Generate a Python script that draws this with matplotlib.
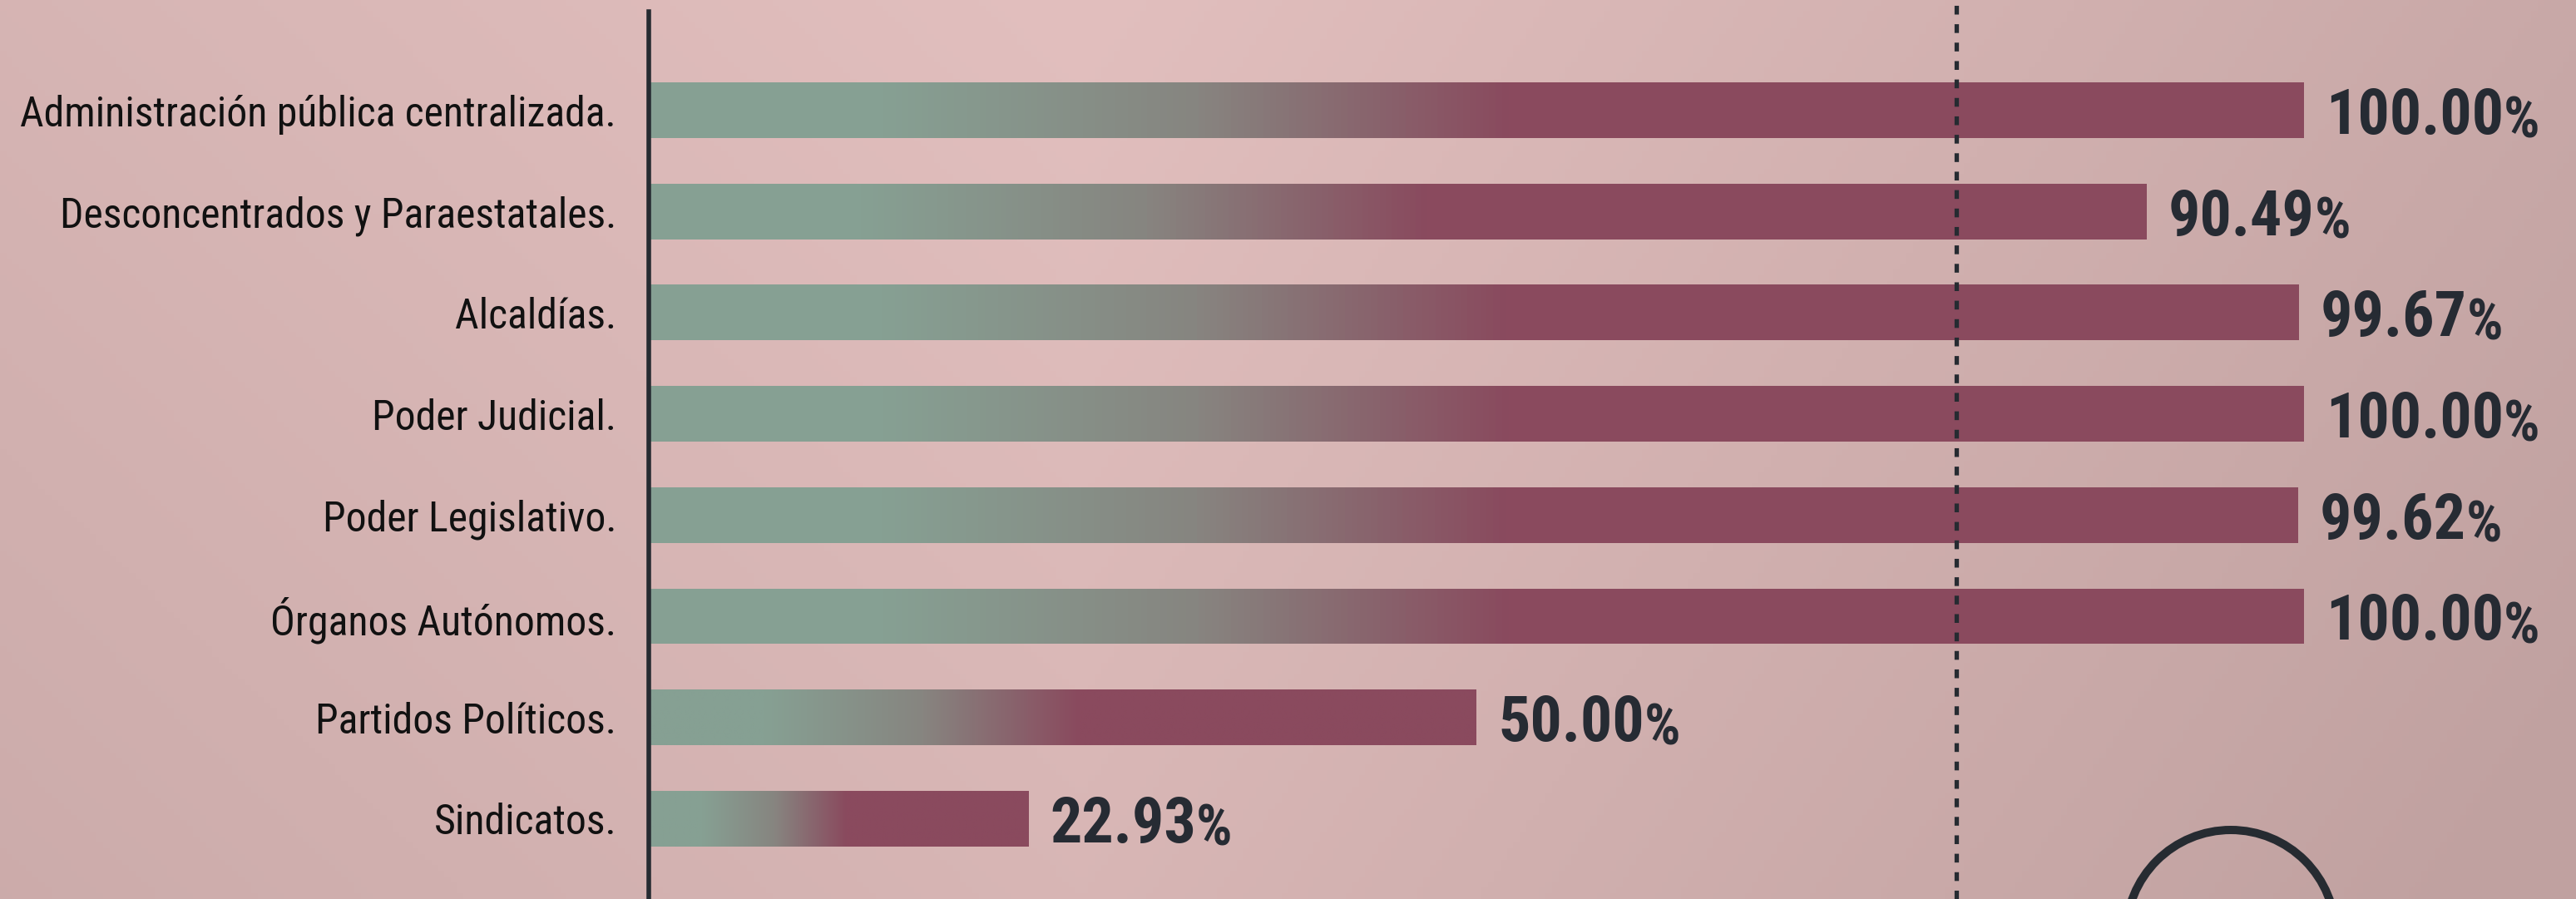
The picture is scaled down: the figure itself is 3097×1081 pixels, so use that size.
import os
import numpy as np
import matplotlib
matplotlib.use('Agg')
import matplotlib.pyplot as plt
from matplotlib import font_manager as fm
from matplotlib.colors import LinearSegmentedColormap
from matplotlib.patches import Circle

# datos
categorias = ['Administración pública centralizada.', 'Desconcentrados y Paraestatales.',
              'Alcaldías.', 'Poder Judicial.', 'Poder Legislativo.', 'Órganos Autónomos.',
              'Partidos Políticos.', 'Sindicatos.']
porcentajes = [100.00, 90.49, 99.67, 100.00, 99.62, 100.00, 50.00, 22.93]
referencia = 79


def fuente_condensada(peso):
    # busca una fuente condensada instalada; si no hay, DejaVu Sans
    orden = ['roboto', 'noto sans', 'open sans', 'dejavu', 'liberation', 'lato', 'inter']
    mejor, clave_mejor = None, None
    for f in fm.fontManager.ttflist:
        nombre = (f.name + ' ' + os.path.basename(f.fname)).lower()
        if not ('condensed' in nombre or 'narrow' in nombre or 'condensed' in str(f.stretch)):
            continue
        if f.style != 'normal' or 'italic' in nombre or 'mono' in nombre or 'serif' in nombre.replace('sans', ''):
            continue
        w = f.weight if isinstance(f.weight, int) else fm.weight_dict.get(f.weight, 400)
        variante = 1 if ('semi' in nombre or 'extra' in nombre or 'ultra' in nombre) else 0
        fam = next((i for i, o in enumerate(orden) if o in nombre), len(orden))
        clave = (variante, abs(w - peso), fam)
        if clave_mejor is None or clave < clave_mejor:
            mejor, clave_mejor = f, clave
    if mejor is None:
        return fm.FontProperties(family='DejaVu Sans', weight=peso)
    return fm.FontProperties(fname=mejor.fname)


W, H = 3097, 1081
fig = plt.figure(figsize=(W / 100, H / 100), dpi=100)
renderer = fig.canvas.get_renderer()


def tam_ajustado(texto, fp, ancho_px, maximo):
    t = fig.text(0, 0, texto, fontproperties=fp, fontsize=100)
    w = t.get_window_extent(renderer).width
    t.remove()
    return min(maximo, 100 * ancho_px / w)


fp_etq = fuente_condensada(400)
fp_val = fuente_condensada(700)
fp_etq.set_size(tam_ajustado(categorias[0], fp_etq, 717, 37))
s_val = tam_ajustado('100.00', fp_val, 214, 58)

# fondo con degradado suave
bg = fig.add_axes([0, 0, 1, 1])
xx, yy = np.meshgrid(np.linspace(0, 1, 400), np.linspace(0, 1, 160))
dx = xx - 0.42
shade = np.where(dx < 0, 0.35 * (-dx) / 0.42, 0.75 * dx / 0.58) + 0.3 * yy
shade = np.clip(shade, 0, 1)[..., None]
light = np.array([226, 191, 190]) / 255
dark = np.array([192, 161, 160]) / 255
bg.imshow(light + (dark - light) * shade, extent=(0, W, H, 0), aspect='auto', zorder=0)
bg.add_patch(Circle((2682, 1124), 126, fill=False, edgecolor='#262b31', linewidth=7.2))
bg.set_xlim(0, W)
bg.set_ylim(H, 0)
bg.axis('off')

# barras
ax = fig.add_axes([780 / W, 0, 1 - 780 / W, 1])
ax.patch.set_alpha(0)
cmap = LinearSegmentedColormap.from_list('barra', [(0, '#86a093'), (0.14, '#86a093'), (0.33, '#878580'),
                                                  (0.52, '#8a4a5e'), (1, '#8a4a5e')])
grad = np.linspace(0, 1, 512)[None, :]
y = np.arange(len(categorias))
alto = 0.55
bars = ax.barh(y, porcentajes, height=alto, color='none', edgecolor='none')
for b, v, yi in zip(bars, porcentajes, y):
    im = ax.imshow(grad, cmap=cmap, extent=(0, v, yi + alto / 2, yi - alto / 2),
                   aspect='auto', interpolation='bilinear', zorder=2)
    im.set_clip_path(b)
    t = ax.annotate(f'{v:.2f}', xy=(v, yi), xytext=(26, 0), textcoords='offset pixels',
                    ha='left', va='center_baseline', fontproperties=fp_val, fontsize=s_val,
                    color='#262b33')
    ax.annotate('%', xy=(1, 0), xycoords=t, xytext=(0, -2), textcoords='offset pixels',
                ha='left', va='bottom', fontproperties=fp_val, fontsize=s_val * 0.9,
                color='#262b33')

ax.axvline(0, ymin=0, ymax=1 - 14 / H, color='#262b31', linewidth=4.0, zorder=3, clip_on=False)
ax.axvline(referencia, color='#262b31', linewidth=3.8, linestyle=(0, (2.0, 2.2)), zorder=3)

ax.set_yticks(y)
ax.set_yticklabels(categorias, fontproperties=fp_etq, color='#111111')
ax.tick_params(axis='y', length=0, pad=28)
ax.set_xticks([])
for s in ax.spines.values():
    s.set_visible(False)
ax.set_xlim(0, (W - 780) / 19.9)
ax.set_ylim(7.794, -1.089)

fig.savefig('out.png', dpi=100)
